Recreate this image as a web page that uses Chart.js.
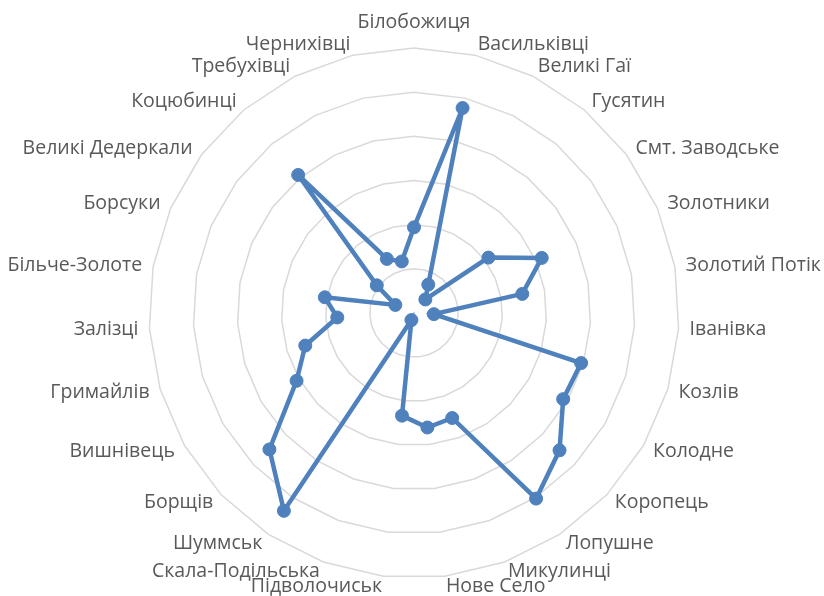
<!DOCTYPE html>
<html><head><meta charset="utf-8">
<script src="https://cdn.jsdelivr.net/npm/chart.js@4.4.0/dist/chart.umd.min.js"></script>
<style>
html,body{margin:0;padding:0;background:#fff;}
#wrap{position:relative;width:824px;height:596px;}
</style>
</head><body>
<div id="wrap"><canvas id="c"></canvas></div>
<script>
const categories = ['Білобожиця','Васильківці','Великі Гаї','Гусятин','Смт. Заводське','Золотники','Золотий Потік','Іванівка','Козлів','Колодне','Коропець','Лопушне','Микулинці','Нове Село','Підволочиськ','Скала-Подільська','Шуммськ','Борщів','Вишнівець','Гримайлів','Залізці','Більче-Золоте','Борсуки','Великі Дедеркали','Коцюбинці','Требухівці','Чернихівці'];
const values = [1.94,4.77,0.72,0.40,2.10,3.15,2.49,0.45,3.95,3.90,4.53,5.03,2.53,2.61,2.34,0.17,5.36,4.50,3.07,2.57,1.74,2.05,0.46,1.05,4.08,1.37,1.20];
const scaleMin = 0, scaleMax = 6, scaleStep = 1;

const blue = '#4f81bd';
new Chart(document.getElementById('c'), {
  type: 'radar',
  data: {
    labels: categories,
    datasets: [{
      data: values,
      borderColor: blue,
      backgroundColor: blue,
      pointBackgroundColor: blue,
      pointBorderColor: blue,
      borderWidth: 4.5,
      pointRadius: 6.5,
      pointBorderWidth: 1,
      fill: false,
      tension: 0
    }]
  },
  options: {
    responsive: true,
    maintainAspectRatio: false,
    animation: false,
    layout: { padding: { top: 13, bottom: 0, left: 6, right: -2 } },
    plugins: { legend: { display: false }, tooltip: { enabled: false } },
    scales: {
      r: {
        min: scaleMin, max: scaleMax,
        ticks: { display: false, stepSize: scaleStep },
        grid: { circular: false, color: '#d9d9d9', lineWidth: 1.5 },
        angleLines: { display: false },
        pointLabels: {
          display: true,
          color: '#595959',
          font: { family: 'Open Sans', size: 19.5, lineHeight: 0 },
          padding: (c) => c.index === 0 ? 26 : ((c.index >= 12 && c.index <= 15) ? 10 : 11)
        }
      }
    }
  }
});
</script>
</body></html>
